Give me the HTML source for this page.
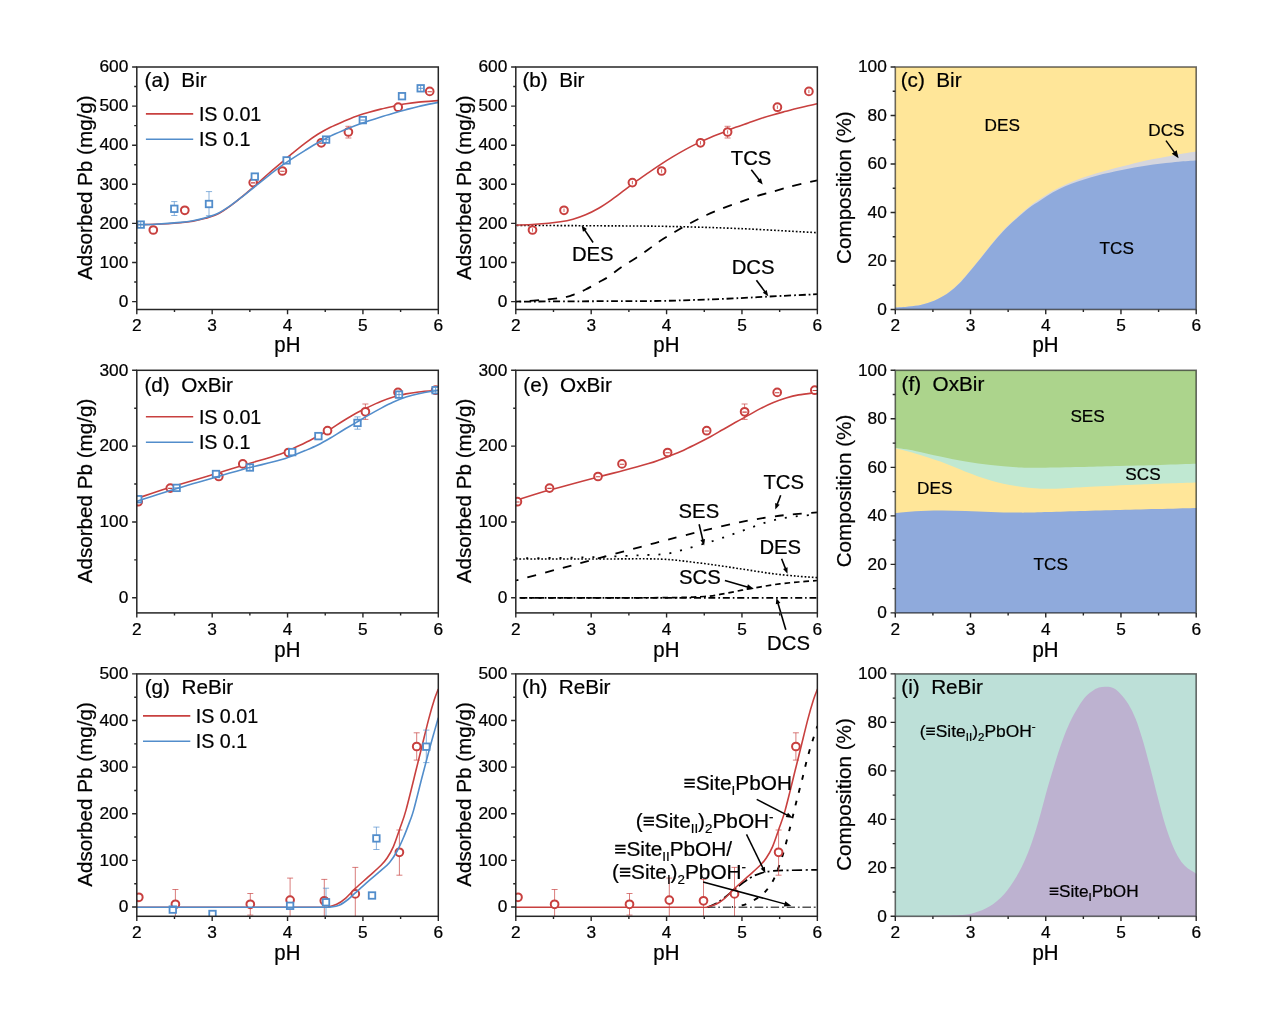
<!DOCTYPE html>
<html><head><meta charset="utf-8"><title>Pb adsorption on birnessite</title>
<style>html,body{margin:0;padding:0;background:#fff;}body{width:1270px;height:1025px;overflow:hidden;font-family:"Liberation Sans", sans-serif;}svg text{font-family:"Liberation Sans", sans-serif;}</style></head>
<body>
<svg width="1270" height="1025" viewBox="0 0 1270 1025" font-family='"Liberation Sans", sans-serif' style="display:block;will-change:transform"><defs><clipPath id="c00"><rect x="136.8" y="67" width="301.5" height="242.5"/></clipPath><clipPath id="c10"><rect x="515.8" y="67" width="301.55" height="242.5"/></clipPath><clipPath id="c01"><rect x="136.8" y="370.3" width="301.5" height="242.6"/></clipPath><clipPath id="c11"><rect x="515.8" y="370.3" width="301.55" height="242.6"/></clipPath><clipPath id="c02"><rect x="136.8" y="673.9" width="301.5" height="242.4"/></clipPath><clipPath id="c12"><rect x="515.8" y="673.9" width="301.55" height="242.4"/></clipPath></defs><rect width="1270" height="1025" fill="#fff"/><rect x="895.3" y="67" width="300.9" height="242.5" fill="#FFE699"/>
<path d="M895.2 307.8C897.48 307.6 904.52 307.12 908.9 306.6C913.28 306.08 917.3 305.68 921.5 304.7C925.7 303.72 929.9 302.5 934.1 300.7C938.3 298.9 942.92 296.42 946.7 293.9C950.48 291.38 953.65 288.57 956.8 285.6C959.95 282.63 962.03 280.22 965.6 276.1C969.17 271.98 974 266.08 978.2 260.9C982.4 255.72 986.6 250.1 990.8 245C995 239.9 999.2 234.77 1003.4 230.3C1007.6 225.83 1011.8 222.05 1016 218.2C1020.2 214.35 1024.5 210.47 1028.6 207.2C1032.7 203.93 1036.6 201.3 1040.6 198.6C1044.6 195.9 1048.5 193.32 1052.6 191C1056.7 188.68 1061 186.6 1065.2 184.7C1069.4 182.8 1073.6 181.17 1077.8 179.6C1082 178.03 1086.2 176.63 1090.4 175.3C1094.6 173.97 1098.8 172.82 1103 171.6C1107.2 170.38 1111.4 169.12 1115.6 168C1119.8 166.88 1124 165.95 1128.2 164.9C1132.4 163.85 1136.6 162.67 1140.8 161.7C1145 160.73 1149.2 159.93 1153.4 159.1C1157.6 158.27 1161.8 157.52 1166 156.7C1170.2 155.88 1173.55 155.08 1178.6 154.2C1183.65 153.32 1193.35 151.87 1196.3 151.4L1196.2 309.5C1146.05 309.5 945.45 309.5 895.3 309.5Z" fill="#D5D6DE" stroke="none"/>
<path d="M895.2 307.8C897.48 307.6 904.52 307.12 908.9 306.6C913.28 306.08 917.3 305.68 921.5 304.7C925.7 303.72 929.9 302.48 934.1 300.7C938.3 298.92 942.92 296.48 946.7 294C950.48 291.52 953.65 288.73 956.8 285.8C959.95 282.87 962.03 280.48 965.6 276.4C969.17 272.32 974 266.45 978.2 261.3C982.4 256.15 986.6 250.55 990.8 245.5C995 240.45 999.2 235.4 1003.4 231C1007.6 226.6 1011.8 222.88 1016 219.1C1020.2 215.32 1024.5 211.45 1028.6 208.3C1032.7 205.15 1036.6 202.82 1040.6 200.2C1044.6 197.58 1048.5 194.92 1052.6 192.6C1056.7 190.28 1061 188.13 1065.2 186.3C1069.4 184.47 1073.6 183.07 1077.8 181.6C1082 180.13 1086.2 178.75 1090.4 177.5C1094.6 176.25 1098.8 175.15 1103 174.1C1107.2 173.05 1111.4 172.1 1115.6 171.2C1119.8 170.3 1124 169.48 1128.2 168.7C1132.4 167.92 1136.6 167.2 1140.8 166.5C1145 165.8 1149.2 165.08 1153.4 164.5C1157.6 163.92 1161.8 163.47 1166 163C1170.2 162.53 1173.55 162.12 1178.6 161.7C1183.65 161.28 1193.35 160.7 1196.3 160.5L1196.2 309.5C1146.05 309.5 945.45 309.5 895.3 309.5Z" fill="#8FAADC" stroke="none"/>
<rect x="895.3" y="370.3" width="300.9" height="242.6" fill="#ACD48C"/>
<path d="M895.2 447.8C898.53 448.32 907.67 449.45 915.2 450.9C922.73 452.35 932 454.72 940.4 456.5C948.8 458.28 957.2 460.17 965.6 461.6C974 463.03 982.4 464.17 990.8 465.1C999.2 466.03 1007.6 466.75 1016 467.2C1024.4 467.65 1030.53 467.82 1041.2 467.8C1051.87 467.78 1067.6 467.4 1080 467.1C1092.4 466.8 1102.27 466.37 1115.6 466C1128.93 465.63 1146.55 465.27 1160 464.9C1173.45 464.53 1190.25 463.98 1196.3 463.8L1196.2 612.9C1146.05 612.9 945.45 612.9 895.3 612.9Z" fill="#C0E8D2" stroke="none"/>
<path d="M895.2 448C898.53 448.9 907.67 451.13 915.2 453.4C922.73 455.67 932 458.55 940.4 461.6C948.8 464.65 957.2 468.55 965.6 471.7C974 474.85 982.4 478.1 990.8 480.5C999.2 482.9 1007.6 484.73 1016 486.1C1024.4 487.47 1033.03 488.35 1041.2 488.7C1049.37 489.05 1056.8 488.52 1065 488.2C1073.2 487.88 1077.77 487.42 1090.4 486.8C1103.03 486.18 1123.15 485.2 1140.8 484.5C1158.45 483.8 1187.05 482.92 1196.3 482.6L1196.2 612.9C1146.05 612.9 945.45 612.9 895.3 612.9Z" fill="#FFE699" stroke="none"/>
<path d="M895.2 513.2C898.53 512.88 907.67 511.75 915.2 511.3C922.73 510.85 932 510.55 940.4 510.5C948.8 510.45 957.2 510.75 965.6 511C974 511.25 982.4 511.73 990.8 512C999.2 512.27 1007.6 512.55 1016 512.6C1024.4 512.65 1024.6 512.72 1041.2 512.3C1057.8 511.88 1089.75 510.83 1115.6 510.1C1141.45 509.37 1182.85 508.27 1196.3 507.9L1196.2 612.9C1146.05 612.9 945.45 612.9 895.3 612.9Z" fill="#8FAADC" stroke="none"/>
<rect x="895.3" y="673.9" width="300.9" height="242.4" fill="#BDE0D8"/>
<path d="M895.2 916C901 915.98 919.2 916.05 930 915.9C940.8 915.75 952.57 915.63 960 915.1C967.43 914.57 969.72 914.12 974.6 912.7C979.48 911.28 984.42 909.65 989.3 906.6C994.18 903.55 999.43 899.28 1003.9 894.4C1008.37 889.52 1012.43 883.4 1016.1 877.3C1019.77 871.2 1023.05 864.3 1025.9 857.8C1028.75 851.3 1030.77 845.62 1033.2 838.3C1035.63 830.98 1038.07 822.43 1040.5 813.9C1042.93 805.37 1045.37 795.63 1047.8 787.1C1050.23 778.57 1052.67 770.43 1055.1 762.7C1057.53 754.97 1059.95 747.42 1062.4 740.7C1064.85 733.98 1067.35 727.68 1069.8 722.4C1072.25 717.12 1074.67 713.07 1077.1 709C1079.53 704.93 1081.97 700.92 1084.4 698C1086.83 695.08 1089.27 693.23 1091.7 691.5C1094.13 689.77 1096.57 688.38 1099 687.6C1101.43 686.82 1103.85 686.68 1106.3 686.8C1108.75 686.92 1111.25 687.03 1113.7 688.3C1116.15 689.57 1118.57 691.77 1121 694.4C1123.43 697.03 1125.87 700.03 1128.3 704.1C1130.73 708.17 1133.17 712.7 1135.6 718.8C1138.03 724.9 1140.47 732.57 1142.9 740.7C1145.33 748.83 1147.75 758.25 1150.2 767.6C1152.65 776.95 1155.15 787.45 1157.6 796.8C1160.05 806.15 1162.47 815.77 1164.9 823.7C1167.33 831.63 1169.77 838.52 1172.2 844.4C1174.63 850.28 1177.07 855.13 1179.5 859C1181.93 862.87 1184 865.15 1186.8 867.6C1189.6 870.05 1194.72 872.68 1196.3 873.7L1196.2 916.3C1146.05 916.3 945.45 916.3 895.3 916.3Z" fill="#BDB2D0" stroke="none"/>
<g clip-path="url(#c00)">
<path d="M136.8 224.7C139.87 224.63 147.93 224.63 155.2 224.3C162.47 223.97 174.1 223.22 180.4 222.7C186.7 222.18 188.8 221.93 193 221.2C197.2 220.47 201.4 219.52 205.6 218.3C209.8 217.08 214 216 218.2 213.9C222.4 211.8 226.6 208.75 230.8 205.7C235 202.65 239.2 199.07 243.4 195.6C247.6 192.13 251.8 188.58 256 184.9C260.2 181.22 264.6 177 268.6 173.5C272.6 170 276 167.28 280 163.9C284 160.52 288.4 156.67 292.6 153.2C296.8 149.73 301 146.25 305.2 143.1C309.4 139.95 313.6 136.93 317.8 134.3C322 131.67 326.2 129.4 330.4 127.3C334.6 125.2 338.8 123.48 343 121.7C347.2 119.92 351.4 118.12 355.6 116.6C359.8 115.08 364 113.85 368.2 112.6C372.4 111.35 376.6 110.15 380.8 109.1C385 108.05 389.2 107.18 393.4 106.3C397.6 105.42 401.8 104.5 406 103.8C410.2 103.1 413.22 102.63 418.6 102.1C423.98 101.57 435.02 100.85 438.3 100.6" fill="none" stroke="#C8403F" stroke-width="1.6" stroke-linecap="butt"/>
<circle cx="153.3" cy="230" r="3.85" fill="#fff" stroke="#C8403F" stroke-width="2"/>
<circle cx="184.8" cy="210.3" r="3.85" fill="#fff" stroke="#C8403F" stroke-width="2"/>
<circle cx="253.2" cy="182.6" r="3.85" fill="#fff" stroke="#C8403F" stroke-width="2"/>
<path d="M251 182.9H255.4" stroke="#C8403F" stroke-width="1.1"/>
<circle cx="282.4" cy="171" r="3.85" fill="#fff" stroke="#C8403F" stroke-width="2"/>
<path d="M280.2 171.3H284.6" stroke="#C8403F" stroke-width="1.1"/>
<circle cx="321.3" cy="142.8" r="3.85" fill="#fff" stroke="#C8403F" stroke-width="2"/>
<path d="M319.1 143.1H323.5" stroke="#C8403F" stroke-width="1.1"/>
<path d="M348.4 126.3V138M345.4 126.3H351.4M345.4 138H351.4" stroke="#C8403F" stroke-width="0.95" fill="none" opacity="0.72"/>
<circle cx="348.4" cy="132" r="3.85" fill="#fff" stroke="#C8403F" stroke-width="2"/>
<circle cx="398.2" cy="107.2" r="3.85" fill="#fff" stroke="#C8403F" stroke-width="2"/>
<circle cx="429.7" cy="91.4" r="3.85" fill="#fff" stroke="#C8403F" stroke-width="2"/>
<path d="M427.5 91.7H431.9" stroke="#C8403F" stroke-width="1.1"/>
<rect x="137.45" y="221.35" width="6.5" height="6.5" fill="#fff" stroke="#528DCB" stroke-width="1.8"/>
<path d="M140.7 222.2V227M138.3 224.6H143.1" stroke="#528DCB" stroke-width="0.9"/>
<path d="M174.3 201.6V215.5M171.2 201.6H177.4M171.2 215.5H177.4" stroke="#528DCB" stroke-width="0.95" fill="none" opacity="0.72"/>
<rect x="171.05" y="205.55" width="6.5" height="6.5" fill="#fff" stroke="#528DCB" stroke-width="1.8"/>
<path d="M209 191.6V215.7M205.9 191.6H212.1M205.9 215.7H212.1" stroke="#528DCB" stroke-width="0.95" fill="none" opacity="0.72"/>
<rect x="205.75" y="200.75" width="6.5" height="6.5" fill="#fff" stroke="#528DCB" stroke-width="1.8"/>
<rect x="251.55" y="173.35" width="6.5" height="6.5" fill="#fff" stroke="#528DCB" stroke-width="1.8"/>
<rect x="283.35" y="157.15" width="6.5" height="6.5" fill="#fff" stroke="#528DCB" stroke-width="1.8"/>
<rect x="322.85" y="136.35" width="6.5" height="6.5" fill="#fff" stroke="#528DCB" stroke-width="1.8"/>
<path d="M326.1 137.2V142M323.7 139.6H328.5" stroke="#528DCB" stroke-width="0.9"/>
<rect x="359.55" y="116.85" width="6.5" height="6.5" fill="#fff" stroke="#528DCB" stroke-width="1.8"/>
<path d="M360.4 120.1H365.2" stroke="#528DCB" stroke-width="1"/>
<rect x="398.75" y="92.95" width="6.5" height="6.5" fill="#fff" stroke="#528DCB" stroke-width="1.8"/>
<rect x="417.45" y="85.05" width="6.5" height="6.5" fill="#fff" stroke="#528DCB" stroke-width="1.8"/>
<path d="M420.7 85.9V90.7M418.3 88.3H423.1" stroke="#528DCB" stroke-width="0.9"/>
<path d="M136.8 224.7C139.87 224.62 147.93 224.58 155.2 224.2C162.47 223.82 174.1 222.98 180.4 222.4C186.7 221.82 188.8 221.48 193 220.7C197.2 219.92 201.4 218.95 205.6 217.7C209.8 216.45 214 215.25 218.2 213.2C222.4 211.15 226.6 208.3 230.8 205.4C235 202.5 239.2 199.1 243.4 195.8C247.6 192.5 251.8 188.97 256 185.6C260.2 182.23 264.6 178.73 268.6 175.6C272.6 172.47 276 169.67 280 166.8C284 163.93 288.4 161.13 292.6 158.4C296.8 155.67 301 153 305.2 150.4C309.4 147.8 313.6 145.18 317.8 142.8C322 140.42 326.2 138.15 330.4 136.1C334.6 134.05 338.8 132.28 343 130.5C347.2 128.72 351.4 126.98 355.6 125.4C359.8 123.82 364 122.42 368.2 121C372.4 119.58 376.6 118.2 380.8 116.9C385 115.6 389.2 114.4 393.4 113.2C397.6 112 401.8 110.82 406 109.7C410.2 108.58 413.22 107.72 418.6 106.5C423.98 105.28 435.02 103.08 438.3 102.4" fill="none" stroke="#528DCB" stroke-width="1.6" stroke-linecap="butt"/>
</g>
<g clip-path="url(#c10)">
<path d="M516 225.4C530 225.47 574.75 225.63 600 225.8C625.25 225.97 644.17 225.93 667.5 226.4C690.83 226.87 715.02 227.55 740 228.6C764.98 229.65 804.5 232.02 817.4 232.7" fill="none" stroke="#000" stroke-width="1.6" stroke-linecap="butt" stroke-dasharray="1.7 1.92" stroke-dashoffset="2.56"/>
<path d="M516 301.6C530 301.53 576 301.32 600 301.2C624 301.08 641.6 301.2 660 300.9C678.4 300.6 695.7 299.93 710.4 299.4C725.1 298.87 738.33 298.18 748.2 297.7C758.07 297.22 758.07 297.08 769.6 296.5C781.13 295.92 809.43 294.58 817.4 294.2" fill="none" stroke="#000" stroke-width="1.8" stroke-linecap="butt" stroke-dasharray="7 3 1.7 2.75" stroke-dashoffset="6.28"/>
<path d="M516 301.7C521.3 301.32 539.35 300.22 547.8 299.4C556.25 298.58 562.28 297.65 566.7 296.8C571.12 295.95 571.15 295.52 574.3 294.3C577.45 293.08 581.62 291.45 585.6 289.5C589.58 287.55 594.42 284.7 598.2 282.6C601.98 280.5 604.52 279.42 608.3 276.9C612.08 274.38 616.28 270.65 620.9 267.5C625.52 264.35 631.38 261.05 636 258C640.62 254.95 644.6 252.05 648.6 249.2C652.6 246.35 655.58 243.8 660 240.9C664.42 238 670.07 234.75 675.1 231.8C680.13 228.85 684.95 226 690.2 223.2C695.45 220.4 701.13 217.52 706.6 215C712.07 212.48 717.33 210.3 723 208.1C728.67 205.9 734.93 203.8 740.6 201.8C746.27 199.8 751.33 197.88 757 196.1C762.67 194.32 768.93 192.72 774.6 191.1C780.27 189.48 785.32 187.87 791 186.4C796.68 184.93 804.3 183.32 808.7 182.3C813.1 181.28 815.95 180.63 817.4 180.3" fill="none" stroke="#000" stroke-width="1.8" stroke-linecap="butt" stroke-dasharray="9.25 8.9" stroke-dashoffset="4.39"/>
<path d="M516 225.2C519.2 225.05 527.8 224.88 535.2 224.3C542.6 223.72 554.1 222.55 560.4 221.7C566.7 220.85 568.8 220.35 573 219.2C577.2 218.05 581.4 216.58 585.6 214.8C589.8 213.02 594 210.92 598.2 208.5C602.4 206.08 606.6 203.23 610.8 200.3C615 197.37 619.2 194.05 623.4 190.9C627.6 187.75 631.8 184.45 636 181.4C640.2 178.35 644.6 175.37 648.6 172.6C652.6 169.83 656 167.42 660 164.8C664 162.18 668.4 159.43 672.6 156.9C676.8 154.37 681 151.9 685.2 149.6C689.4 147.3 693.6 145.13 697.8 143.1C702 141.07 706.2 139.18 710.4 137.4C714.6 135.62 718.8 134.08 723 132.4C727.2 130.72 731.4 128.88 735.6 127.3C739.8 125.72 744 124.37 748.2 122.9C752.4 121.43 756.6 119.87 760.8 118.5C765 117.13 769.2 115.9 773.4 114.7C777.6 113.5 781.8 112.42 786 111.3C790.2 110.18 793.37 109.27 798.6 108C803.83 106.73 814.27 104.42 817.4 103.7" fill="none" stroke="#C8403F" stroke-width="1.6" stroke-linecap="butt"/>
<circle cx="532.5" cy="230" r="3.85" fill="#fff" stroke="#C8403F" stroke-width="2"/>
<path d="M532.5 228.3V231.7" stroke="#C8403F" stroke-width="0.8"/>
<circle cx="564" cy="210.3" r="3.85" fill="#fff" stroke="#C8403F" stroke-width="2"/>
<path d="M564 208.6V212" stroke="#C8403F" stroke-width="0.8"/>
<circle cx="632.4" cy="182.6" r="3.85" fill="#fff" stroke="#C8403F" stroke-width="2"/>
<path d="M632.4 180.9V184.3" stroke="#C8403F" stroke-width="0.8"/>
<circle cx="661.6" cy="171" r="3.85" fill="#fff" stroke="#C8403F" stroke-width="2"/>
<path d="M661.6 169.3V172.7" stroke="#C8403F" stroke-width="0.8"/>
<circle cx="700.5" cy="142.8" r="3.85" fill="#fff" stroke="#C8403F" stroke-width="2"/>
<path d="M700.5 141.1V144.5" stroke="#C8403F" stroke-width="0.8"/>
<path d="M727.6 126.3V138M724.6 126.3H730.6M724.6 138H730.6" stroke="#C8403F" stroke-width="0.95" fill="none" opacity="0.72"/>
<circle cx="727.6" cy="132" r="3.85" fill="#fff" stroke="#C8403F" stroke-width="2"/>
<path d="M727.6 130.3V133.7" stroke="#C8403F" stroke-width="0.8"/>
<circle cx="777.4" cy="107.2" r="3.85" fill="#fff" stroke="#C8403F" stroke-width="2"/>
<path d="M777.4 105.5V108.9" stroke="#C8403F" stroke-width="0.8"/>
<circle cx="808.9" cy="91.4" r="3.85" fill="#fff" stroke="#C8403F" stroke-width="2"/>
<path d="M808.9 89.7V93.1" stroke="#C8403F" stroke-width="0.8"/>
</g>
<path d="M145.9 113.9H193.2" stroke="#C8403F" stroke-width="1.6"/>
<path d="M145.9 139.2H193.2" stroke="#528DCB" stroke-width="1.6"/>
<text x="198.9" y="120.7" font-size="19.7" text-anchor="start" fill="#000" stroke="#000" stroke-width="0.22">IS 0.01</text>
<text x="198.9" y="145.9" font-size="19.7" text-anchor="start" fill="#000" stroke="#000" stroke-width="0.22">IS 0.1</text>
<text x="571.9" y="260.5" font-size="20.3" text-anchor="start" fill="#000" stroke="#000" stroke-width="0.22">DES</text>
<path d="M593.1 242.5L584.4 229.64" stroke="#000" stroke-width="1.6" fill="none"/>
<path d="M581.6 225.5L586.95 229.12L582.97 231.81Z" fill="#000"/>
<text x="730.8" y="164.6" font-size="20.3" text-anchor="start" fill="#000" stroke="#000" stroke-width="0.22">TCS</text>
<path d="M751.3 169.7L759.64 180.45" stroke="#000" stroke-width="1.6" fill="none"/>
<path d="M762.7 184.4L757.13 181.13L760.92 178.19Z" fill="#000"/>
<text x="731.7" y="273.8" font-size="20.3" text-anchor="start" fill="#000" stroke="#000" stroke-width="0.22">DCS</text>
<path d="M756.4 280.2L765.32 292.19" stroke="#000" stroke-width="1.6" fill="none"/>
<path d="M768.3 296.2L762.79 292.82L766.65 289.95Z" fill="#000"/>
<text x="984.6" y="130.6" font-size="17.2" text-anchor="start" fill="#000" stroke="#000" stroke-width="0.22">DES</text>
<text x="1099.6" y="253.5" font-size="17.2" text-anchor="start" fill="#000" stroke="#000" stroke-width="0.22">TCS</text>
<text x="1148.3" y="135.9" font-size="17.2" text-anchor="start" fill="#000" stroke="#000" stroke-width="0.22">DCS</text>
<path d="M1166 140.6L1174.82 152.91" stroke="#000" stroke-width="1.5" fill="none"/>
<path d="M1178.6 158.2L1171.79 153.85L1176.67 150.36Z" fill="#000"/>
<g clip-path="url(#c01)">
<path d="M136.8 498.5C142.38 496.62 156.73 491.45 170.3 487.2C183.87 482.95 206.02 476.67 218.2 473C230.38 469.33 233.1 468.33 243.4 465.2C253.7 462.07 271.8 456.95 280 454.2C288.2 451.45 288.4 450.6 292.6 448.7C296.8 446.8 301 444.9 305.2 442.8C309.4 440.7 313.6 438.37 317.8 436.1C322 433.83 326.2 431.72 330.4 429.2C334.6 426.68 338.8 423.62 343 421C347.2 418.38 351.4 415.8 355.6 413.5C359.8 411.2 364 409.2 368.2 407.2C372.4 405.2 376.6 403.18 380.8 401.5C385 399.82 389.2 398.37 393.4 397.1C397.6 395.83 401.8 394.75 406 393.9C410.2 393.05 413.22 392.62 418.6 392C423.98 391.38 435.02 390.5 438.3 390.2" fill="none" stroke="#C8403F" stroke-width="1.6" stroke-linecap="butt"/>
<circle cx="138.2" cy="501.7" r="3.85" fill="#fff" stroke="#C8403F" stroke-width="2"/>
<circle cx="170.3" cy="488.1" r="3.85" fill="#fff" stroke="#C8403F" stroke-width="2"/>
<path d="M168.1 488.4H172.5" stroke="#C8403F" stroke-width="1.1"/>
<circle cx="218.8" cy="476.5" r="3.85" fill="#fff" stroke="#C8403F" stroke-width="2"/>
<circle cx="242.8" cy="463.9" r="3.85" fill="#fff" stroke="#C8403F" stroke-width="2"/>
<circle cx="288.4" cy="452.5" r="3.85" fill="#fff" stroke="#C8403F" stroke-width="2"/>
<circle cx="327.5" cy="430.7" r="3.85" fill="#fff" stroke="#C8403F" stroke-width="2"/>
<path d="M365.4 404V419.4M362.4 404H368.4M362.4 419.4H368.4" stroke="#C8403F" stroke-width="0.95" fill="none" opacity="0.72"/>
<circle cx="365.4" cy="411.8" r="3.85" fill="#fff" stroke="#C8403F" stroke-width="2"/>
<circle cx="398" cy="392.4" r="3.85" fill="#fff" stroke="#C8403F" stroke-width="2"/>
<path d="M395.8 392.7H400.2" stroke="#C8403F" stroke-width="1.1"/>
<circle cx="435.6" cy="390.2" r="3.85" fill="#fff" stroke="#C8403F" stroke-width="2"/>
<path d="M433.4 390.5H437.8" stroke="#C8403F" stroke-width="1.1"/>
<rect x="134.95" y="495.95" width="6.5" height="6.5" fill="#fff" stroke="#528DCB" stroke-width="1.8"/>
<rect x="173.35" y="484.65" width="6.5" height="6.5" fill="#fff" stroke="#528DCB" stroke-width="1.8"/>
<path d="M174.2 487.9H179" stroke="#528DCB" stroke-width="1"/>
<rect x="212.75" y="470.75" width="6.5" height="6.5" fill="#fff" stroke="#528DCB" stroke-width="1.8"/>
<rect x="246.65" y="464.25" width="6.5" height="6.5" fill="#fff" stroke="#528DCB" stroke-width="1.8"/>
<path d="M249.9 465.1V469.9M247.5 467.5H252.3" stroke="#528DCB" stroke-width="0.9"/>
<rect x="288.95" y="448.85" width="6.5" height="6.5" fill="#fff" stroke="#528DCB" stroke-width="1.8"/>
<path d="M318.4 432.6V439.6M315.3 432.6H321.5M315.3 439.6H321.5" stroke="#528DCB" stroke-width="0.95" fill="none" opacity="0.72"/>
<rect x="315.15" y="432.85" width="6.5" height="6.5" fill="#fff" stroke="#528DCB" stroke-width="1.8"/>
<path d="M357.5 416.9V429.2M354.4 416.9H360.6M354.4 429.2H360.6" stroke="#528DCB" stroke-width="0.95" fill="none" opacity="0.72"/>
<rect x="354.25" y="419.65" width="6.5" height="6.5" fill="#fff" stroke="#528DCB" stroke-width="1.8"/>
<rect x="395.75" y="391.35" width="6.5" height="6.5" fill="#fff" stroke="#528DCB" stroke-width="1.8"/>
<path d="M399 392.2V397M396.6 394.6H401.4" stroke="#528DCB" stroke-width="0.9"/>
<rect x="432.35" y="386.95" width="6.5" height="6.5" fill="#fff" stroke="#528DCB" stroke-width="1.8"/>
<path d="M435.6 387.8V392.6M433.2 390.2H438" stroke="#528DCB" stroke-width="0.9"/>
<path d="M136.8 501.4C142.38 499.57 156.73 494.55 170.3 490.4C183.87 486.25 206.02 480.03 218.2 476.5C230.38 472.97 233.1 471.93 243.4 469.2C253.7 466.47 271.8 462.35 280 460.1C288.2 457.85 288.4 457.28 292.6 455.7C296.8 454.12 301 452.38 305.2 450.6C309.4 448.82 313.6 447.1 317.8 445C322 442.9 326.2 440.47 330.4 438C334.6 435.53 338.8 432.72 343 430.2C347.2 427.68 351.4 425.37 355.6 422.9C359.8 420.43 364 417.82 368.2 415.4C372.4 412.98 376.6 410.62 380.8 408.4C385 406.18 389.2 403.98 393.4 402.1C397.6 400.22 401.8 398.5 406 397.1C410.2 395.7 413.22 394.82 418.6 393.7C423.98 392.58 435.02 390.95 438.3 390.4" fill="none" stroke="#528DCB" stroke-width="1.6" stroke-linecap="butt"/>
</g>
<g clip-path="url(#c11)">
<path d="M516 559C530 559 576 558.98 600 559C624 559.02 643.7 558.47 660 559.1C676.3 559.73 687.3 561.62 697.8 562.8C708.3 563.98 714.6 565 723 566.2C731.4 567.4 739.8 568.73 748.2 570C756.6 571.27 765 572.75 773.4 573.8C781.8 574.85 791.27 575.67 798.6 576.3C805.93 576.93 814.27 577.38 817.4 577.6" fill="none" stroke="#000" stroke-width="1.6" stroke-linecap="butt" stroke-dasharray="1.7 1.92"/>
<path d="M516 558.2C523.33 558.13 546 558.02 560 557.8C574 557.58 586.67 557.32 600 556.9C613.33 556.48 628.75 555.85 640 555.3C651.25 554.75 658.92 554.93 667.5 553.6C676.08 552.27 683.93 549.4 691.5 547.3C699.07 545.2 705.97 543.2 712.9 541C719.83 538.8 726.38 536.47 733.1 534.1C739.82 531.73 746.48 529.12 753.2 526.8C759.92 524.48 766.47 521.92 773.4 520.2C780.33 518.48 787.47 517.43 794.8 516.5C802.13 515.57 813.63 514.92 817.4 514.6" fill="none" stroke="#000" stroke-width="1.8" stroke-linecap="butt" stroke-dasharray="2 9" stroke-dashoffset="0.55"/>
<path d="M516 580.5C523.33 578.52 546 572.37 560 568.6C574 564.83 586.67 561.48 600 557.9C613.33 554.32 628.75 550.12 640 547.1C651.25 544.08 657.03 542.5 667.5 539.8C677.97 537.1 690.62 533.85 702.8 530.9C714.98 527.95 728.83 524.5 740.6 522.1C752.37 519.7 764.33 517.82 773.4 516.5C782.47 515.18 787.67 514.9 795 514.2C802.33 513.5 813.67 512.62 817.4 512.3" fill="none" stroke="#000" stroke-width="1.8" stroke-linecap="butt" stroke-dasharray="8.8 9.4" stroke-dashoffset="6.18"/>
<path d="M520.4 597.8C569.9 597.8 767.9 597.8 817.4 597.8" fill="none" stroke="#000" stroke-width="1.8" stroke-linecap="butt" stroke-dasharray="7 3 1.7 2.75"/>
<path d="M516 597.8C540 597.78 628.65 597.92 660 597.7C691.35 597.48 693.6 597.13 704.1 596.5C714.6 595.87 716.7 594.95 723 593.9C729.3 592.85 735.6 591.38 741.9 590.2C748.2 589.02 754.5 587.85 760.8 586.8C767.1 585.75 773.4 584.7 779.7 583.9C786 583.1 792.32 582.57 798.6 582C804.88 581.43 814.27 580.75 817.4 580.5" fill="none" stroke="#000" stroke-width="1.7" stroke-linecap="butt" stroke-dasharray="5.6 3.9" stroke-dashoffset="5.83"/>
<path d="M515.8 500.4C521.45 498.68 535.97 494.02 549.7 490.1C563.43 486.18 585.92 480.15 598.2 476.9C610.48 473.65 615 472.82 623.4 470.6C631.8 468.38 642.5 465.42 648.6 463.6C654.7 461.78 656 461.18 660 459.7C664 458.22 668.4 456.42 672.6 454.7C676.8 452.98 681 451.3 685.2 449.4C689.4 447.5 693.6 445.4 697.8 443.3C702 441.2 706.2 439.1 710.4 436.8C714.6 434.5 718.8 431.92 723 429.5C727.2 427.08 731.4 424.65 735.6 422.3C739.8 419.95 744 417.72 748.2 415.4C752.4 413.08 756.6 410.55 760.8 408.4C765 406.25 769.2 404.23 773.4 402.5C777.6 400.77 781.8 399.27 786 398C790.2 396.73 793.37 395.83 798.6 394.9C803.83 393.97 814.27 392.82 817.4 392.4" fill="none" stroke="#C8403F" stroke-width="1.6" stroke-linecap="butt"/>
<circle cx="517.4" cy="501.7" r="3.85" fill="#fff" stroke="#C8403F" stroke-width="2"/>
<path d="M515.2 502H519.6" stroke="#C8403F" stroke-width="1.1"/>
<circle cx="549.5" cy="488.1" r="3.85" fill="#fff" stroke="#C8403F" stroke-width="2"/>
<path d="M547.3 488.4H551.7" stroke="#C8403F" stroke-width="1.1"/>
<circle cx="598" cy="476.5" r="3.85" fill="#fff" stroke="#C8403F" stroke-width="2"/>
<path d="M595.8 476.8H600.2" stroke="#C8403F" stroke-width="1.1"/>
<circle cx="622" cy="463.9" r="3.85" fill="#fff" stroke="#C8403F" stroke-width="2"/>
<path d="M619.8 464.2H624.2" stroke="#C8403F" stroke-width="1.1"/>
<circle cx="667.6" cy="452.5" r="3.85" fill="#fff" stroke="#C8403F" stroke-width="2"/>
<path d="M665.4 452.8H669.8" stroke="#C8403F" stroke-width="1.1"/>
<circle cx="706.7" cy="430.7" r="3.85" fill="#fff" stroke="#C8403F" stroke-width="2"/>
<path d="M704.5 431H708.9" stroke="#C8403F" stroke-width="1.1"/>
<path d="M744.6 404V419.4M741.6 404H747.6M741.6 419.4H747.6" stroke="#C8403F" stroke-width="0.95" fill="none" opacity="0.72"/>
<circle cx="744.6" cy="411.8" r="3.85" fill="#fff" stroke="#C8403F" stroke-width="2"/>
<path d="M742.4 412.1H746.8" stroke="#C8403F" stroke-width="1.1"/>
<circle cx="777.2" cy="392.4" r="3.85" fill="#fff" stroke="#C8403F" stroke-width="2"/>
<path d="M775 392.7H779.4" stroke="#C8403F" stroke-width="1.1"/>
<circle cx="814.8" cy="390.2" r="3.85" fill="#fff" stroke="#C8403F" stroke-width="2"/>
<path d="M812.6 390.5H817" stroke="#C8403F" stroke-width="1.1"/>
</g>
<path d="M145.9 416.8H193.2" stroke="#C8403F" stroke-width="1.6"/>
<path d="M145.9 442.2H193.2" stroke="#528DCB" stroke-width="1.6"/>
<text x="198.9" y="423.7" font-size="19.7" text-anchor="start" fill="#000" stroke="#000" stroke-width="0.22">IS 0.01</text>
<text x="198.9" y="449" font-size="19.7" text-anchor="start" fill="#000" stroke="#000" stroke-width="0.22">IS 0.1</text>
<text x="763.4" y="488.8" font-size="20.3" text-anchor="start" fill="#000" stroke="#000" stroke-width="0.22">TCS</text>
<path d="M780.7 495.3L777.08 504.83" stroke="#000" stroke-width="1.6" fill="none"/>
<path d="M775.3 509.5L775.19 503.04L779.68 504.74Z" fill="#000"/>
<text x="678.6" y="518.3" font-size="20.3" text-anchor="start" fill="#000" stroke="#000" stroke-width="0.22">SES</text>
<path d="M699.1 524.3L702.95 540.53" stroke="#000" stroke-width="1.6" fill="none"/>
<path d="M704.1 545.4L700.38 540.12L705.05 539.01Z" fill="#000"/>
<text x="759.4" y="553.6" font-size="20.3" text-anchor="start" fill="#000" stroke="#000" stroke-width="0.22">DES</text>
<path d="M781.6 558.7L785.68 569.14" stroke="#000" stroke-width="1.6" fill="none"/>
<path d="M787.5 573.8L783.08 569.08L787.55 567.34Z" fill="#000"/>
<text x="679" y="583.5" font-size="20.3" text-anchor="start" fill="#000" stroke="#000" stroke-width="0.22">SCS</text>
<path d="M724.9 580.5L748.14 587.23" stroke="#000" stroke-width="1.7" fill="none"/>
<path d="M753.9 588.9L746.43 589.55L747.93 584.36Z" fill="#000"/>
<text x="767.1" y="650.3" font-size="20.3" text-anchor="start" fill="#000" stroke="#000" stroke-width="0.22">DCS</text>
<path d="M785.8 629.7L777.82 602.69" stroke="#000" stroke-width="1.6" fill="none"/>
<path d="M776.4 597.9L780.4 602.97L775.8 604.33Z" fill="#000"/>
<text x="1070.4" y="421.8" font-size="17.2" text-anchor="start" fill="#000" stroke="#000" stroke-width="0.22">SES</text>
<text x="1125.3" y="479.6" font-size="17.2" text-anchor="start" fill="#000" stroke="#000" stroke-width="0.22">SCS</text>
<text x="917" y="493.7" font-size="17.2" text-anchor="start" fill="#000" stroke="#000" stroke-width="0.22">DES</text>
<text x="1033.6" y="569.5" font-size="17.2" text-anchor="start" fill="#000" stroke="#000" stroke-width="0.22">TCS</text>
<g clip-path="url(#c02)">
<path d="M136.8 907.2C155.67 907.2 219.47 907.2 250 907.2C280.53 907.2 307.02 907.23 320 907.2C332.98 907.17 325.12 907.48 327.9 907C330.68 906.52 333.77 905.75 336.7 904.3C339.63 902.85 342.35 900.98 345.5 898.3C348.65 895.62 351.82 891.77 355.6 888.2C359.38 884.63 364 880.68 368.2 876.9C372.4 873.12 377.65 868.65 380.8 865.5C383.95 862.35 385 861.15 387.1 858C389.2 854.85 391.3 851.43 393.4 846.6C395.5 841.77 397.6 835.08 399.7 829C401.8 822.92 403.2 820.22 406 810.1C408.8 799.98 413.85 778.9 416.5 768.3C419.15 757.7 419.87 754.7 421.9 746.5C423.93 738.3 426.65 726.85 428.7 719.1C430.75 711.35 432.6 705 434.2 700C435.8 695 437.62 690.92 438.3 689.1" fill="none" stroke="#C8403F" stroke-width="1.6" stroke-linecap="butt"/>
<circle cx="138.8" cy="897.3" r="3.85" fill="#fff" stroke="#C8403F" stroke-width="2"/>
<path d="M175.4 889.5V919.1M172.4 889.5H178.4M172.4 919.1H178.4" stroke="#C8403F" stroke-width="0.95" fill="none" opacity="0.72"/>
<circle cx="175.4" cy="904.3" r="3.85" fill="#fff" stroke="#C8403F" stroke-width="2"/>
<path d="M250.3 893.5V915.1M247.3 893.5H253.3M247.3 915.1H253.3" stroke="#C8403F" stroke-width="0.95" fill="none" opacity="0.72"/>
<circle cx="250.3" cy="904.3" r="3.85" fill="#fff" stroke="#C8403F" stroke-width="2"/>
<path d="M290.1 878.1V922M287.1 878.1H293.1M287.1 922H293.1" stroke="#C8403F" stroke-width="0.95" fill="none" opacity="0.72"/>
<circle cx="290.1" cy="900.1" r="3.85" fill="#fff" stroke="#C8403F" stroke-width="2"/>
<path d="M324.3 879.4V922.2M321.3 879.4H327.3M321.3 922.2H327.3" stroke="#C8403F" stroke-width="0.95" fill="none" opacity="0.72"/>
<circle cx="324.3" cy="900.8" r="3.85" fill="#fff" stroke="#C8403F" stroke-width="2"/>
<path d="M355.3 867.4V920.4M352.3 867.4H358.3M352.3 920.4H358.3" stroke="#C8403F" stroke-width="0.95" fill="none" opacity="0.72"/>
<circle cx="355.3" cy="893.9" r="3.85" fill="#fff" stroke="#C8403F" stroke-width="2"/>
<path d="M399.4 830V875.2M396.4 830H402.4M396.4 875.2H402.4" stroke="#C8403F" stroke-width="0.95" fill="none" opacity="0.72"/>
<circle cx="399.4" cy="852.3" r="3.85" fill="#fff" stroke="#C8403F" stroke-width="2"/>
<path d="M416.7 732.8V760.1M413.7 732.8H419.7M413.7 760.1H419.7" stroke="#C8403F" stroke-width="0.95" fill="none" opacity="0.72"/>
<circle cx="416.7" cy="746.5" r="3.85" fill="#fff" stroke="#C8403F" stroke-width="2"/>
<rect x="169.55" y="906.35" width="6.5" height="6.5" fill="#fff" stroke="#528DCB" stroke-width="1.8"/>
<rect x="209.25" y="910.75" width="6.5" height="6.5" fill="#fff" stroke="#528DCB" stroke-width="1.8"/>
<rect x="286.85" y="902.55" width="6.5" height="6.5" fill="#fff" stroke="#528DCB" stroke-width="1.8"/>
<path d="M326 888.2V916.4M322.9 888.2H329.1M322.9 916.4H329.1" stroke="#528DCB" stroke-width="0.95" fill="none" opacity="0.72"/>
<rect x="322.75" y="899.05" width="6.5" height="6.5" fill="#fff" stroke="#528DCB" stroke-width="1.8"/>
<rect x="368.75" y="892.25" width="6.5" height="6.5" fill="#fff" stroke="#528DCB" stroke-width="1.8"/>
<path d="M376.4 827.1V849.5M373.3 827.1H379.5M373.3 849.5H379.5" stroke="#528DCB" stroke-width="0.95" fill="none" opacity="0.72"/>
<rect x="373.15" y="835.15" width="6.5" height="6.5" fill="#fff" stroke="#528DCB" stroke-width="1.8"/>
<path d="M426.3 730.1V762.6M423.2 730.1H429.4M423.2 762.6H429.4" stroke="#528DCB" stroke-width="0.95" fill="none" opacity="0.72"/>
<rect x="423.05" y="743.45" width="6.5" height="6.5" fill="#fff" stroke="#528DCB" stroke-width="1.8"/>
<path d="M136.8 907.2C155.67 907.2 219.13 907.2 250 907.2C280.87 907.2 308.6 907.23 322 907.2C335.4 907.17 327.53 907.33 330.4 907C333.27 906.67 336.27 906.45 339.2 905.2C342.13 903.95 345.27 901.6 348 899.5C350.73 897.4 352.23 895.63 355.6 892.6C358.97 889.57 364 884.97 368.2 881.3C372.4 877.63 377.23 873.75 380.8 870.6C384.37 867.45 386.87 865.67 389.6 862.4C392.33 859.13 394.9 855.1 397.2 851C399.5 846.9 401.3 842.73 403.4 837.8C405.5 832.87 408.08 826.05 409.8 821.4C411.52 816.75 411.68 817.17 413.7 809.9C415.72 802.63 419.4 787.47 421.9 777.8C424.4 768.13 426.65 759.52 428.7 751.9C430.75 744.28 432.6 737.78 434.2 732.1C435.8 726.42 437.62 720.18 438.3 717.8" fill="none" stroke="#528DCB" stroke-width="1.6" stroke-linecap="butt"/>
</g>
<g clip-path="url(#c12)">
<path d="M707 907.2C725.4 907.2 799 907.2 817.4 907.2" fill="none" stroke="#555" stroke-width="1.6" stroke-linecap="butt" stroke-dasharray="8.5 2.8 1.8 2.8"/>
<path d="M707.7 907.1C709.08 906.5 713.12 905.15 716 903.5C718.88 901.85 721.82 899.62 725 897.2C728.18 894.78 731.02 892.17 735.1 889C739.18 885.83 745.17 880.85 749.5 878.2C753.83 875.55 757.25 874.3 761.1 873.1C764.95 871.9 767.78 871.47 772.6 871C777.42 870.53 782.53 870.5 790 870.3C797.47 870.1 812.83 869.88 817.4 869.8" fill="none" stroke="#000" stroke-width="1.7" stroke-linecap="butt" stroke-dasharray="10 3.5 2 3.5"/>
<path d="M732.2 907.1C734.6 906.57 741.78 905.83 746.6 903.9C751.42 901.97 757.25 898.47 761.1 895.5C764.95 892.53 767.3 889.47 769.7 886.1C772.1 882.73 773.33 880.47 775.5 875.3C777.67 870.13 780.28 863.03 782.7 855.1C785.12 847.17 787.82 836.23 790 827.7C792.18 819.17 794.25 810.13 795.8 803.9C797.35 797.67 798.15 794.73 799.3 790.3C800.45 785.87 801.62 781.63 802.7 777.3C803.78 772.97 804.73 768.52 805.8 764.3C806.87 760.08 807.92 756.1 809.1 752C810.28 747.9 811.63 743.68 812.9 739.7C814.17 735.72 815.95 730.38 816.7 728.1C817.45 725.82 817.28 726.35 817.4 726" fill="none" stroke="#000" stroke-width="1.9" stroke-linecap="butt" stroke-dasharray="4.8 8.5" stroke-dashoffset="3.7"/>
<path d="M516 907.2C534.87 907.2 598.67 907.2 629.2 907.2C659.73 907.2 686.22 907.23 699.2 907.2C712.18 907.17 704.32 907.48 707.1 907C709.88 906.52 712.97 905.75 715.9 904.3C718.83 902.85 721.55 900.98 724.7 898.3C727.85 895.62 731.02 891.77 734.8 888.2C738.58 884.63 743.2 880.68 747.4 876.9C751.6 873.12 756.85 868.65 760 865.5C763.15 862.35 764.2 861.15 766.3 858C768.4 854.85 770.5 851.43 772.6 846.6C774.7 841.77 776.8 835.08 778.9 829C781 822.92 782.4 820.22 785.2 810.1C788 799.98 793.05 778.9 795.7 768.3C798.35 757.7 799.07 754.7 801.1 746.5C803.13 738.3 805.85 726.85 807.9 719.1C809.95 711.35 811.8 705 813.4 700C815 695 816.82 690.92 817.5 689.1" fill="none" stroke="#C8403F" stroke-width="1.6" stroke-linecap="butt"/>
<circle cx="518" cy="897.3" r="3.85" fill="#fff" stroke="#C8403F" stroke-width="2"/>
<path d="M554.6 889.5V919.1M551.6 889.5H557.6M551.6 919.1H557.6" stroke="#C8403F" stroke-width="0.95" fill="none" opacity="0.72"/>
<circle cx="554.6" cy="904.3" r="3.85" fill="#fff" stroke="#C8403F" stroke-width="2"/>
<path d="M629.5 893.5V915.1M626.5 893.5H632.5M626.5 915.1H632.5" stroke="#C8403F" stroke-width="0.95" fill="none" opacity="0.72"/>
<circle cx="629.5" cy="904.3" r="3.85" fill="#fff" stroke="#C8403F" stroke-width="2"/>
<path d="M669.3 878.1V922M666.3 878.1H672.3M666.3 922H672.3" stroke="#C8403F" stroke-width="0.95" fill="none" opacity="0.72"/>
<circle cx="669.3" cy="900.1" r="3.85" fill="#fff" stroke="#C8403F" stroke-width="2"/>
<path d="M703.5 879.4V922.2M700.5 879.4H706.5M700.5 922.2H706.5" stroke="#C8403F" stroke-width="0.95" fill="none" opacity="0.72"/>
<circle cx="703.5" cy="900.8" r="3.85" fill="#fff" stroke="#C8403F" stroke-width="2"/>
<path d="M734.5 867.4V920.4M731.5 867.4H737.5M731.5 920.4H737.5" stroke="#C8403F" stroke-width="0.95" fill="none" opacity="0.72"/>
<circle cx="734.5" cy="893.9" r="3.85" fill="#fff" stroke="#C8403F" stroke-width="2"/>
<path d="M778.6 830V875.2M775.6 830H781.6M775.6 875.2H781.6" stroke="#C8403F" stroke-width="0.95" fill="none" opacity="0.72"/>
<circle cx="778.6" cy="852.3" r="3.85" fill="#fff" stroke="#C8403F" stroke-width="2"/>
<path d="M795.9 732.8V760.1M792.9 732.8H798.9M792.9 760.1H798.9" stroke="#C8403F" stroke-width="0.95" fill="none" opacity="0.72"/>
<circle cx="795.9" cy="746.5" r="3.85" fill="#fff" stroke="#C8403F" stroke-width="2"/>
</g>
<path d="M143.0 715.9H190.3" stroke="#C8403F" stroke-width="1.6"/>
<path d="M143.0 741.2H190.3" stroke="#528DCB" stroke-width="1.6"/>
<text x="195.7" y="723" font-size="19.7" text-anchor="start" fill="#000" stroke="#000" stroke-width="0.22">IS 0.01</text>
<text x="195.7" y="748.3" font-size="19.7" text-anchor="start" fill="#000" stroke="#000" stroke-width="0.22">IS 0.1</text>
<text x="683.6" y="790.2" font-size="20.8" text-anchor="start" fill="#000" stroke="#000" stroke-width="0.22"><tspan>&#8801;Site</tspan><tspan dy="5" font-size="13.3">I</tspan><tspan dy="-5">PbOH</tspan></text>
<path d="M756.7 799.4L787.74 815.35" stroke="#000" stroke-width="1.5" fill="none"/>
<path d="M792.9 818L785.71 817.12L787.99 812.67Z" fill="#000"/>
<text x="635.8" y="828.1" font-size="20.8" text-anchor="start" fill="#000" stroke="#000" stroke-width="0.22"><tspan>(&#8801;Site</tspan><tspan dy="5" font-size="13.3">II</tspan><tspan dy="-5">)</tspan><tspan dy="5" font-size="13.3">2</tspan><tspan dy="-5">PbOH</tspan><tspan dy="-7.5" font-size="13.3">-</tspan></text>
<path d="M746.5 834.3L763.21 868.6" stroke="#000" stroke-width="1.5" fill="none"/>
<path d="M765.4 873.1L760.7 868.71L764.84 866.7Z" fill="#000"/>
<text x="614.3" y="856.4" font-size="20.8" text-anchor="start" fill="#000" stroke="#000" stroke-width="0.22"><tspan>&#8801;Site</tspan><tspan dy="5" font-size="13.3">II</tspan><tspan dy="-5">PbOH/</tspan></text>
<text x="612" y="878.7" font-size="20.8" text-anchor="start" fill="#000" stroke="#000" stroke-width="0.22"><tspan>(&#8801;Site</tspan><tspan dy="5" font-size="13.3">I</tspan><tspan dy="-5">)</tspan><tspan dy="5" font-size="13.3">2</tspan><tspan dy="-5">PbOH</tspan><tspan dy="-7.5" font-size="13.3">-</tspan></text>
<path d="M703.1 882L785.51 904.14" stroke="#000" stroke-width="1.5" fill="none"/>
<path d="M791.3 905.7L783.87 906.39L785.21 901.37Z" fill="#000"/>
<text x="919.8" y="736.6" font-size="17.4" text-anchor="start" fill="#000" stroke="#000" stroke-width="0.22"><tspan>(&#8801;Site</tspan><tspan dy="4.2" font-size="11.6">II</tspan><tspan dy="-4.2">)</tspan><tspan dy="4.2" font-size="11.6">2</tspan><tspan dy="-4.2">PbOH</tspan><tspan dy="-6.2" font-size="11.6">-</tspan></text>
<text x="1048.9" y="896.8" font-size="17.2" text-anchor="start" fill="#000" stroke="#000" stroke-width="0.22"><tspan>&#8801;Site</tspan><tspan dy="4.2" font-size="11.6">I</tspan><tspan dy="-4.2">PbOH</tspan></text>
<rect x="136.8" y="67" width="301.5" height="242.5" fill="none" stroke="#262626" stroke-width="1.5"/>
<path d="M136.8 309.5v4.7M174.49 309.5v2.6M212.18 309.5v4.7M249.86 309.5v2.6M287.55 309.5v4.7M325.24 309.5v2.6M362.93 309.5v4.7M400.61 309.5v2.6M438.3 309.5v4.7M136.8 301.6h-4.7M136.8 262.5h-4.7M136.8 223.4h-4.7M136.8 184.3h-4.7M136.8 145.2h-4.7M136.8 106.1h-4.7M136.8 67h-4.7M136.8 282.05h-2.6M136.8 242.95h-2.6M136.8 203.85h-2.6M136.8 164.75h-2.6M136.8 125.65h-2.6M136.8 86.55h-2.6" stroke="#262626" stroke-width="1.4" fill="none"/>
<text x="136.8" y="331.1" font-size="17.3" text-anchor="middle" fill="#000" stroke="#000" stroke-width="0.22">2</text>
<text x="212.18" y="331.1" font-size="17.3" text-anchor="middle" fill="#000" stroke="#000" stroke-width="0.22">3</text>
<text x="287.55" y="331.1" font-size="17.3" text-anchor="middle" fill="#000" stroke="#000" stroke-width="0.22">4</text>
<text x="362.93" y="331.1" font-size="17.3" text-anchor="middle" fill="#000" stroke="#000" stroke-width="0.22">5</text>
<text x="438.3" y="331.1" font-size="17.3" text-anchor="middle" fill="#000" stroke="#000" stroke-width="0.22">6</text>
<text x="128.3" y="306.8" font-size="17.3" text-anchor="end" fill="#000" stroke="#000" stroke-width="0.22">0</text>
<text x="128.3" y="267.7" font-size="17.3" text-anchor="end" fill="#000" stroke="#000" stroke-width="0.22">100</text>
<text x="128.3" y="228.6" font-size="17.3" text-anchor="end" fill="#000" stroke="#000" stroke-width="0.22">200</text>
<text x="128.3" y="189.5" font-size="17.3" text-anchor="end" fill="#000" stroke="#000" stroke-width="0.22">300</text>
<text x="128.3" y="150.4" font-size="17.3" text-anchor="end" fill="#000" stroke="#000" stroke-width="0.22">400</text>
<text x="128.3" y="111.3" font-size="17.3" text-anchor="end" fill="#000" stroke="#000" stroke-width="0.22">500</text>
<text x="128.3" y="72.2" font-size="17.3" text-anchor="end" fill="#000" stroke="#000" stroke-width="0.22">600</text>
<text x="287.35" y="352" font-size="21.2" text-anchor="middle" fill="#000" stroke="#000" stroke-width="0.22" textLength="26.1" lengthAdjust="spacingAndGlyphs">pH</text>
<text x="92.35" y="187.65" font-size="20.65" text-anchor="middle" fill="#000" stroke="#000" stroke-width="0.22" transform="rotate(-90 92.35 187.65)">Adsorbed Pb (mg/g)</text>
<text x="144.6" y="86.75" font-size="20.7" text-anchor="start" fill="#000" stroke="#000" stroke-width="0.22">(a)&#160;&#160;Bir</text>
<rect x="515.8" y="67" width="301.55" height="242.5" fill="none" stroke="#262626" stroke-width="1.5"/>
<path d="M515.8 309.5v4.7M553.49 309.5v2.6M591.19 309.5v4.7M628.88 309.5v2.6M666.58 309.5v4.7M704.27 309.5v2.6M741.96 309.5v4.7M779.66 309.5v2.6M817.35 309.5v4.7M515.8 301.6h-4.7M515.8 262.5h-4.7M515.8 223.4h-4.7M515.8 184.3h-4.7M515.8 145.2h-4.7M515.8 106.1h-4.7M515.8 67h-4.7M515.8 282.05h-2.6M515.8 242.95h-2.6M515.8 203.85h-2.6M515.8 164.75h-2.6M515.8 125.65h-2.6M515.8 86.55h-2.6" stroke="#262626" stroke-width="1.4" fill="none"/>
<text x="515.8" y="331.1" font-size="17.3" text-anchor="middle" fill="#000" stroke="#000" stroke-width="0.22">2</text>
<text x="591.19" y="331.1" font-size="17.3" text-anchor="middle" fill="#000" stroke="#000" stroke-width="0.22">3</text>
<text x="666.58" y="331.1" font-size="17.3" text-anchor="middle" fill="#000" stroke="#000" stroke-width="0.22">4</text>
<text x="741.96" y="331.1" font-size="17.3" text-anchor="middle" fill="#000" stroke="#000" stroke-width="0.22">5</text>
<text x="817.35" y="331.1" font-size="17.3" text-anchor="middle" fill="#000" stroke="#000" stroke-width="0.22">6</text>
<text x="507.3" y="306.8" font-size="17.3" text-anchor="end" fill="#000" stroke="#000" stroke-width="0.22">0</text>
<text x="507.3" y="267.7" font-size="17.3" text-anchor="end" fill="#000" stroke="#000" stroke-width="0.22">100</text>
<text x="507.3" y="228.6" font-size="17.3" text-anchor="end" fill="#000" stroke="#000" stroke-width="0.22">200</text>
<text x="507.3" y="189.5" font-size="17.3" text-anchor="end" fill="#000" stroke="#000" stroke-width="0.22">300</text>
<text x="507.3" y="150.4" font-size="17.3" text-anchor="end" fill="#000" stroke="#000" stroke-width="0.22">400</text>
<text x="507.3" y="111.3" font-size="17.3" text-anchor="end" fill="#000" stroke="#000" stroke-width="0.22">500</text>
<text x="507.3" y="72.2" font-size="17.3" text-anchor="end" fill="#000" stroke="#000" stroke-width="0.22">600</text>
<text x="666.38" y="352" font-size="21.2" text-anchor="middle" fill="#000" stroke="#000" stroke-width="0.22" textLength="26.1" lengthAdjust="spacingAndGlyphs">pH</text>
<text x="471.35" y="187.65" font-size="20.65" text-anchor="middle" fill="#000" stroke="#000" stroke-width="0.22" transform="rotate(-90 471.35 187.65)">Adsorbed Pb (mg/g)</text>
<text x="522.4" y="86.6" font-size="20.7" text-anchor="start" fill="#000" stroke="#000" stroke-width="0.22">(b)&#160;&#160;Bir</text>
<rect x="136.8" y="370.3" width="301.5" height="242.6" fill="none" stroke="#262626" stroke-width="1.5"/>
<path d="M136.8 612.9v4.7M174.49 612.9v2.6M212.18 612.9v4.7M249.86 612.9v2.6M287.55 612.9v4.7M325.24 612.9v2.6M362.93 612.9v4.7M400.61 612.9v2.6M438.3 612.9v4.7M136.8 597.8h-4.7M136.8 521.97h-4.7M136.8 446.13h-4.7M136.8 370.3h-4.7M136.8 559.88h-2.6M136.8 484.05h-2.6M136.8 408.22h-2.6" stroke="#262626" stroke-width="1.4" fill="none"/>
<text x="136.8" y="634.5" font-size="17.3" text-anchor="middle" fill="#000" stroke="#000" stroke-width="0.22">2</text>
<text x="212.18" y="634.5" font-size="17.3" text-anchor="middle" fill="#000" stroke="#000" stroke-width="0.22">3</text>
<text x="287.55" y="634.5" font-size="17.3" text-anchor="middle" fill="#000" stroke="#000" stroke-width="0.22">4</text>
<text x="362.93" y="634.5" font-size="17.3" text-anchor="middle" fill="#000" stroke="#000" stroke-width="0.22">5</text>
<text x="438.3" y="634.5" font-size="17.3" text-anchor="middle" fill="#000" stroke="#000" stroke-width="0.22">6</text>
<text x="128.3" y="603" font-size="17.3" text-anchor="end" fill="#000" stroke="#000" stroke-width="0.22">0</text>
<text x="128.3" y="527.17" font-size="17.3" text-anchor="end" fill="#000" stroke="#000" stroke-width="0.22">100</text>
<text x="128.3" y="451.33" font-size="17.3" text-anchor="end" fill="#000" stroke="#000" stroke-width="0.22">200</text>
<text x="128.3" y="375.5" font-size="17.3" text-anchor="end" fill="#000" stroke="#000" stroke-width="0.22">300</text>
<text x="287.35" y="656.8" font-size="21.2" text-anchor="middle" fill="#000" stroke="#000" stroke-width="0.22" textLength="26.1" lengthAdjust="spacingAndGlyphs">pH</text>
<text x="92.35" y="491" font-size="20.65" text-anchor="middle" fill="#000" stroke="#000" stroke-width="0.22" transform="rotate(-90 92.35 491)">Adsorbed Pb (mg/g)</text>
<text x="144.45" y="391.5" font-size="20.7" text-anchor="start" fill="#000" stroke="#000" stroke-width="0.22">(d)&#160;&#160;OxBir</text>
<rect x="515.8" y="370.3" width="301.55" height="242.6" fill="none" stroke="#262626" stroke-width="1.5"/>
<path d="M515.8 612.9v4.7M553.49 612.9v2.6M591.19 612.9v4.7M628.88 612.9v2.6M666.58 612.9v4.7M704.27 612.9v2.6M741.96 612.9v4.7M779.66 612.9v2.6M817.35 612.9v4.7M515.8 597.8h-4.7M515.8 521.97h-4.7M515.8 446.13h-4.7M515.8 370.3h-4.7M515.8 559.88h-2.6M515.8 484.05h-2.6M515.8 408.22h-2.6" stroke="#262626" stroke-width="1.4" fill="none"/>
<text x="515.8" y="634.5" font-size="17.3" text-anchor="middle" fill="#000" stroke="#000" stroke-width="0.22">2</text>
<text x="591.19" y="634.5" font-size="17.3" text-anchor="middle" fill="#000" stroke="#000" stroke-width="0.22">3</text>
<text x="666.58" y="634.5" font-size="17.3" text-anchor="middle" fill="#000" stroke="#000" stroke-width="0.22">4</text>
<text x="741.96" y="634.5" font-size="17.3" text-anchor="middle" fill="#000" stroke="#000" stroke-width="0.22">5</text>
<text x="817.35" y="634.5" font-size="17.3" text-anchor="middle" fill="#000" stroke="#000" stroke-width="0.22">6</text>
<text x="507.3" y="603" font-size="17.3" text-anchor="end" fill="#000" stroke="#000" stroke-width="0.22">0</text>
<text x="507.3" y="527.17" font-size="17.3" text-anchor="end" fill="#000" stroke="#000" stroke-width="0.22">100</text>
<text x="507.3" y="451.33" font-size="17.3" text-anchor="end" fill="#000" stroke="#000" stroke-width="0.22">200</text>
<text x="507.3" y="375.5" font-size="17.3" text-anchor="end" fill="#000" stroke="#000" stroke-width="0.22">300</text>
<text x="666.38" y="656.8" font-size="21.2" text-anchor="middle" fill="#000" stroke="#000" stroke-width="0.22" textLength="26.1" lengthAdjust="spacingAndGlyphs">pH</text>
<text x="471.35" y="491" font-size="20.65" text-anchor="middle" fill="#000" stroke="#000" stroke-width="0.22" transform="rotate(-90 471.35 491)">Adsorbed Pb (mg/g)</text>
<text x="523.3" y="391.5" font-size="20.7" text-anchor="start" fill="#000" stroke="#000" stroke-width="0.22">(e)&#160;&#160;OxBir</text>
<rect x="136.8" y="673.9" width="301.5" height="242.4" fill="none" stroke="#262626" stroke-width="1.5"/>
<path d="M136.8 916.3v4.7M174.49 916.3v2.6M212.18 916.3v4.7M249.86 916.3v2.6M287.55 916.3v4.7M325.24 916.3v2.6M362.93 916.3v4.7M400.61 916.3v2.6M438.3 916.3v4.7M136.8 907h-4.7M136.8 860.38h-4.7M136.8 813.76h-4.7M136.8 767.14h-4.7M136.8 720.52h-4.7M136.8 673.9h-4.7M136.8 883.69h-2.6M136.8 837.07h-2.6M136.8 790.45h-2.6M136.8 743.83h-2.6M136.8 697.21h-2.6" stroke="#262626" stroke-width="1.4" fill="none"/>
<text x="136.8" y="937.9" font-size="17.3" text-anchor="middle" fill="#000" stroke="#000" stroke-width="0.22">2</text>
<text x="212.18" y="937.9" font-size="17.3" text-anchor="middle" fill="#000" stroke="#000" stroke-width="0.22">3</text>
<text x="287.55" y="937.9" font-size="17.3" text-anchor="middle" fill="#000" stroke="#000" stroke-width="0.22">4</text>
<text x="362.93" y="937.9" font-size="17.3" text-anchor="middle" fill="#000" stroke="#000" stroke-width="0.22">5</text>
<text x="438.3" y="937.9" font-size="17.3" text-anchor="middle" fill="#000" stroke="#000" stroke-width="0.22">6</text>
<text x="128.3" y="912.2" font-size="17.3" text-anchor="end" fill="#000" stroke="#000" stroke-width="0.22">0</text>
<text x="128.3" y="865.58" font-size="17.3" text-anchor="end" fill="#000" stroke="#000" stroke-width="0.22">100</text>
<text x="128.3" y="818.96" font-size="17.3" text-anchor="end" fill="#000" stroke="#000" stroke-width="0.22">200</text>
<text x="128.3" y="772.34" font-size="17.3" text-anchor="end" fill="#000" stroke="#000" stroke-width="0.22">300</text>
<text x="128.3" y="725.72" font-size="17.3" text-anchor="end" fill="#000" stroke="#000" stroke-width="0.22">400</text>
<text x="128.3" y="679.1" font-size="17.3" text-anchor="end" fill="#000" stroke="#000" stroke-width="0.22">500</text>
<text x="287.35" y="960" font-size="21.2" text-anchor="middle" fill="#000" stroke="#000" stroke-width="0.22" textLength="26.1" lengthAdjust="spacingAndGlyphs">pH</text>
<text x="92.35" y="794.5" font-size="20.65" text-anchor="middle" fill="#000" stroke="#000" stroke-width="0.22" transform="rotate(-90 92.35 794.5)">Adsorbed Pb (mg/g)</text>
<text x="144.7" y="693.75" font-size="20.7" text-anchor="start" fill="#000" stroke="#000" stroke-width="0.22">(g)&#160;&#160;ReBir</text>
<rect x="515.8" y="673.9" width="301.55" height="242.4" fill="none" stroke="#262626" stroke-width="1.5"/>
<path d="M515.8 916.3v4.7M553.49 916.3v2.6M591.19 916.3v4.7M628.88 916.3v2.6M666.58 916.3v4.7M704.27 916.3v2.6M741.96 916.3v4.7M779.66 916.3v2.6M817.35 916.3v4.7M515.8 907h-4.7M515.8 860.38h-4.7M515.8 813.76h-4.7M515.8 767.14h-4.7M515.8 720.52h-4.7M515.8 673.9h-4.7M515.8 883.69h-2.6M515.8 837.07h-2.6M515.8 790.45h-2.6M515.8 743.83h-2.6M515.8 697.21h-2.6" stroke="#262626" stroke-width="1.4" fill="none"/>
<text x="515.8" y="937.9" font-size="17.3" text-anchor="middle" fill="#000" stroke="#000" stroke-width="0.22">2</text>
<text x="591.19" y="937.9" font-size="17.3" text-anchor="middle" fill="#000" stroke="#000" stroke-width="0.22">3</text>
<text x="666.58" y="937.9" font-size="17.3" text-anchor="middle" fill="#000" stroke="#000" stroke-width="0.22">4</text>
<text x="741.96" y="937.9" font-size="17.3" text-anchor="middle" fill="#000" stroke="#000" stroke-width="0.22">5</text>
<text x="817.35" y="937.9" font-size="17.3" text-anchor="middle" fill="#000" stroke="#000" stroke-width="0.22">6</text>
<text x="507.3" y="912.2" font-size="17.3" text-anchor="end" fill="#000" stroke="#000" stroke-width="0.22">0</text>
<text x="507.3" y="865.58" font-size="17.3" text-anchor="end" fill="#000" stroke="#000" stroke-width="0.22">100</text>
<text x="507.3" y="818.96" font-size="17.3" text-anchor="end" fill="#000" stroke="#000" stroke-width="0.22">200</text>
<text x="507.3" y="772.34" font-size="17.3" text-anchor="end" fill="#000" stroke="#000" stroke-width="0.22">300</text>
<text x="507.3" y="725.72" font-size="17.3" text-anchor="end" fill="#000" stroke="#000" stroke-width="0.22">400</text>
<text x="507.3" y="679.1" font-size="17.3" text-anchor="end" fill="#000" stroke="#000" stroke-width="0.22">500</text>
<text x="666.38" y="960" font-size="21.2" text-anchor="middle" fill="#000" stroke="#000" stroke-width="0.22" textLength="26.1" lengthAdjust="spacingAndGlyphs">pH</text>
<text x="471.35" y="794.5" font-size="20.65" text-anchor="middle" fill="#000" stroke="#000" stroke-width="0.22" transform="rotate(-90 471.35 794.5)">Adsorbed Pb (mg/g)</text>
<text x="522" y="693.75" font-size="20.7" text-anchor="start" fill="#000" stroke="#000" stroke-width="0.22">(h)&#160;&#160;ReBir</text>
<rect x="895.3" y="67" width="300.9" height="242.5" fill="none" stroke="#141414" stroke-opacity="0.62" stroke-width="1.6"/>
<path d="M895.3 309.5v4.7M932.91 309.5v2.6M970.52 309.5v4.7M1008.14 309.5v2.6M1045.75 309.5v4.7M1083.36 309.5v2.6M1120.97 309.5v4.7M1158.59 309.5v2.6M1196.2 309.5v4.7M895.3 309.5h-4.7M895.3 261h-4.7M895.3 212.5h-4.7M895.3 164h-4.7M895.3 115.5h-4.7M895.3 67h-4.7M895.3 285.25h-2.6M895.3 236.75h-2.6M895.3 188.25h-2.6M895.3 139.75h-2.6M895.3 91.25h-2.6" stroke="#262626" stroke-width="1.4" fill="none"/>
<text x="895.3" y="331.1" font-size="17.3" text-anchor="middle" fill="#000" stroke="#000" stroke-width="0.22">2</text>
<text x="970.52" y="331.1" font-size="17.3" text-anchor="middle" fill="#000" stroke="#000" stroke-width="0.22">3</text>
<text x="1045.75" y="331.1" font-size="17.3" text-anchor="middle" fill="#000" stroke="#000" stroke-width="0.22">4</text>
<text x="1120.97" y="331.1" font-size="17.3" text-anchor="middle" fill="#000" stroke="#000" stroke-width="0.22">5</text>
<text x="1196.2" y="331.1" font-size="17.3" text-anchor="middle" fill="#000" stroke="#000" stroke-width="0.22">6</text>
<text x="886.8" y="314.7" font-size="17.3" text-anchor="end" fill="#000" stroke="#000" stroke-width="0.22">0</text>
<text x="886.8" y="266.2" font-size="17.3" text-anchor="end" fill="#000" stroke="#000" stroke-width="0.22">20</text>
<text x="886.8" y="217.7" font-size="17.3" text-anchor="end" fill="#000" stroke="#000" stroke-width="0.22">40</text>
<text x="886.8" y="169.2" font-size="17.3" text-anchor="end" fill="#000" stroke="#000" stroke-width="0.22">60</text>
<text x="886.8" y="120.7" font-size="17.3" text-anchor="end" fill="#000" stroke="#000" stroke-width="0.22">80</text>
<text x="886.8" y="72.2" font-size="17.3" text-anchor="end" fill="#000" stroke="#000" stroke-width="0.22">100</text>
<text x="1045.55" y="352" font-size="21.2" text-anchor="middle" fill="#000" stroke="#000" stroke-width="0.22" textLength="26.1" lengthAdjust="spacingAndGlyphs">pH</text>
<text x="850.85" y="187.65" font-size="20.65" text-anchor="middle" fill="#000" stroke="#000" stroke-width="0.22" transform="rotate(-90 850.85 187.65)">Composition (%)</text>
<text x="900.7" y="86.75" font-size="20.7" text-anchor="start" fill="#000" stroke="#000" stroke-width="0.22">(c)&#160;&#160;Bir</text>
<rect x="895.3" y="370.3" width="300.9" height="242.6" fill="none" stroke="#141414" stroke-opacity="0.62" stroke-width="1.6"/>
<path d="M895.3 612.9v4.7M932.91 612.9v2.6M970.52 612.9v4.7M1008.14 612.9v2.6M1045.75 612.9v4.7M1083.36 612.9v2.6M1120.97 612.9v4.7M1158.59 612.9v2.6M1196.2 612.9v4.7M895.3 612.9h-4.7M895.3 564.38h-4.7M895.3 515.86h-4.7M895.3 467.34h-4.7M895.3 418.82h-4.7M895.3 370.3h-4.7M895.3 588.64h-2.6M895.3 540.12h-2.6M895.3 491.6h-2.6M895.3 443.08h-2.6M895.3 394.56h-2.6" stroke="#262626" stroke-width="1.4" fill="none"/>
<text x="895.3" y="634.5" font-size="17.3" text-anchor="middle" fill="#000" stroke="#000" stroke-width="0.22">2</text>
<text x="970.52" y="634.5" font-size="17.3" text-anchor="middle" fill="#000" stroke="#000" stroke-width="0.22">3</text>
<text x="1045.75" y="634.5" font-size="17.3" text-anchor="middle" fill="#000" stroke="#000" stroke-width="0.22">4</text>
<text x="1120.97" y="634.5" font-size="17.3" text-anchor="middle" fill="#000" stroke="#000" stroke-width="0.22">5</text>
<text x="1196.2" y="634.5" font-size="17.3" text-anchor="middle" fill="#000" stroke="#000" stroke-width="0.22">6</text>
<text x="886.8" y="618.1" font-size="17.3" text-anchor="end" fill="#000" stroke="#000" stroke-width="0.22">0</text>
<text x="886.8" y="569.58" font-size="17.3" text-anchor="end" fill="#000" stroke="#000" stroke-width="0.22">20</text>
<text x="886.8" y="521.06" font-size="17.3" text-anchor="end" fill="#000" stroke="#000" stroke-width="0.22">40</text>
<text x="886.8" y="472.54" font-size="17.3" text-anchor="end" fill="#000" stroke="#000" stroke-width="0.22">60</text>
<text x="886.8" y="424.02" font-size="17.3" text-anchor="end" fill="#000" stroke="#000" stroke-width="0.22">80</text>
<text x="886.8" y="375.5" font-size="17.3" text-anchor="end" fill="#000" stroke="#000" stroke-width="0.22">100</text>
<text x="1045.55" y="656.8" font-size="21.2" text-anchor="middle" fill="#000" stroke="#000" stroke-width="0.22" textLength="26.1" lengthAdjust="spacingAndGlyphs">pH</text>
<text x="850.85" y="491" font-size="20.65" text-anchor="middle" fill="#000" stroke="#000" stroke-width="0.22" transform="rotate(-90 850.85 491)">Composition (%)</text>
<text x="901.6" y="390.9" font-size="20.7" text-anchor="start" fill="#000" stroke="#000" stroke-width="0.22">(f)&#160;&#160;OxBir</text>
<rect x="895.3" y="673.9" width="300.9" height="242.4" fill="none" stroke="#141414" stroke-opacity="0.62" stroke-width="1.6"/>
<path d="M895.3 916.3v4.7M932.91 916.3v2.6M970.52 916.3v4.7M1008.14 916.3v2.6M1045.75 916.3v4.7M1083.36 916.3v2.6M1120.97 916.3v4.7M1158.59 916.3v2.6M1196.2 916.3v4.7M895.3 916.3h-4.7M895.3 867.82h-4.7M895.3 819.34h-4.7M895.3 770.86h-4.7M895.3 722.38h-4.7M895.3 673.9h-4.7M895.3 892.06h-2.6M895.3 843.58h-2.6M895.3 795.1h-2.6M895.3 746.62h-2.6M895.3 698.14h-2.6" stroke="#262626" stroke-width="1.4" fill="none"/>
<text x="895.3" y="937.9" font-size="17.3" text-anchor="middle" fill="#000" stroke="#000" stroke-width="0.22">2</text>
<text x="970.52" y="937.9" font-size="17.3" text-anchor="middle" fill="#000" stroke="#000" stroke-width="0.22">3</text>
<text x="1045.75" y="937.9" font-size="17.3" text-anchor="middle" fill="#000" stroke="#000" stroke-width="0.22">4</text>
<text x="1120.97" y="937.9" font-size="17.3" text-anchor="middle" fill="#000" stroke="#000" stroke-width="0.22">5</text>
<text x="1196.2" y="937.9" font-size="17.3" text-anchor="middle" fill="#000" stroke="#000" stroke-width="0.22">6</text>
<text x="886.8" y="921.5" font-size="17.3" text-anchor="end" fill="#000" stroke="#000" stroke-width="0.22">0</text>
<text x="886.8" y="873.02" font-size="17.3" text-anchor="end" fill="#000" stroke="#000" stroke-width="0.22">20</text>
<text x="886.8" y="824.54" font-size="17.3" text-anchor="end" fill="#000" stroke="#000" stroke-width="0.22">40</text>
<text x="886.8" y="776.06" font-size="17.3" text-anchor="end" fill="#000" stroke="#000" stroke-width="0.22">60</text>
<text x="886.8" y="727.58" font-size="17.3" text-anchor="end" fill="#000" stroke="#000" stroke-width="0.22">80</text>
<text x="886.8" y="679.1" font-size="17.3" text-anchor="end" fill="#000" stroke="#000" stroke-width="0.22">100</text>
<text x="1045.55" y="960" font-size="21.2" text-anchor="middle" fill="#000" stroke="#000" stroke-width="0.22" textLength="26.1" lengthAdjust="spacingAndGlyphs">pH</text>
<text x="850.85" y="794.5" font-size="20.65" text-anchor="middle" fill="#000" stroke="#000" stroke-width="0.22" transform="rotate(-90 850.85 794.5)">Composition (%)</text>
<text x="901.3" y="693.75" font-size="20.7" text-anchor="start" fill="#000" stroke="#000" stroke-width="0.22">(i)&#160;&#160;ReBir</text></svg>
</body></html>
